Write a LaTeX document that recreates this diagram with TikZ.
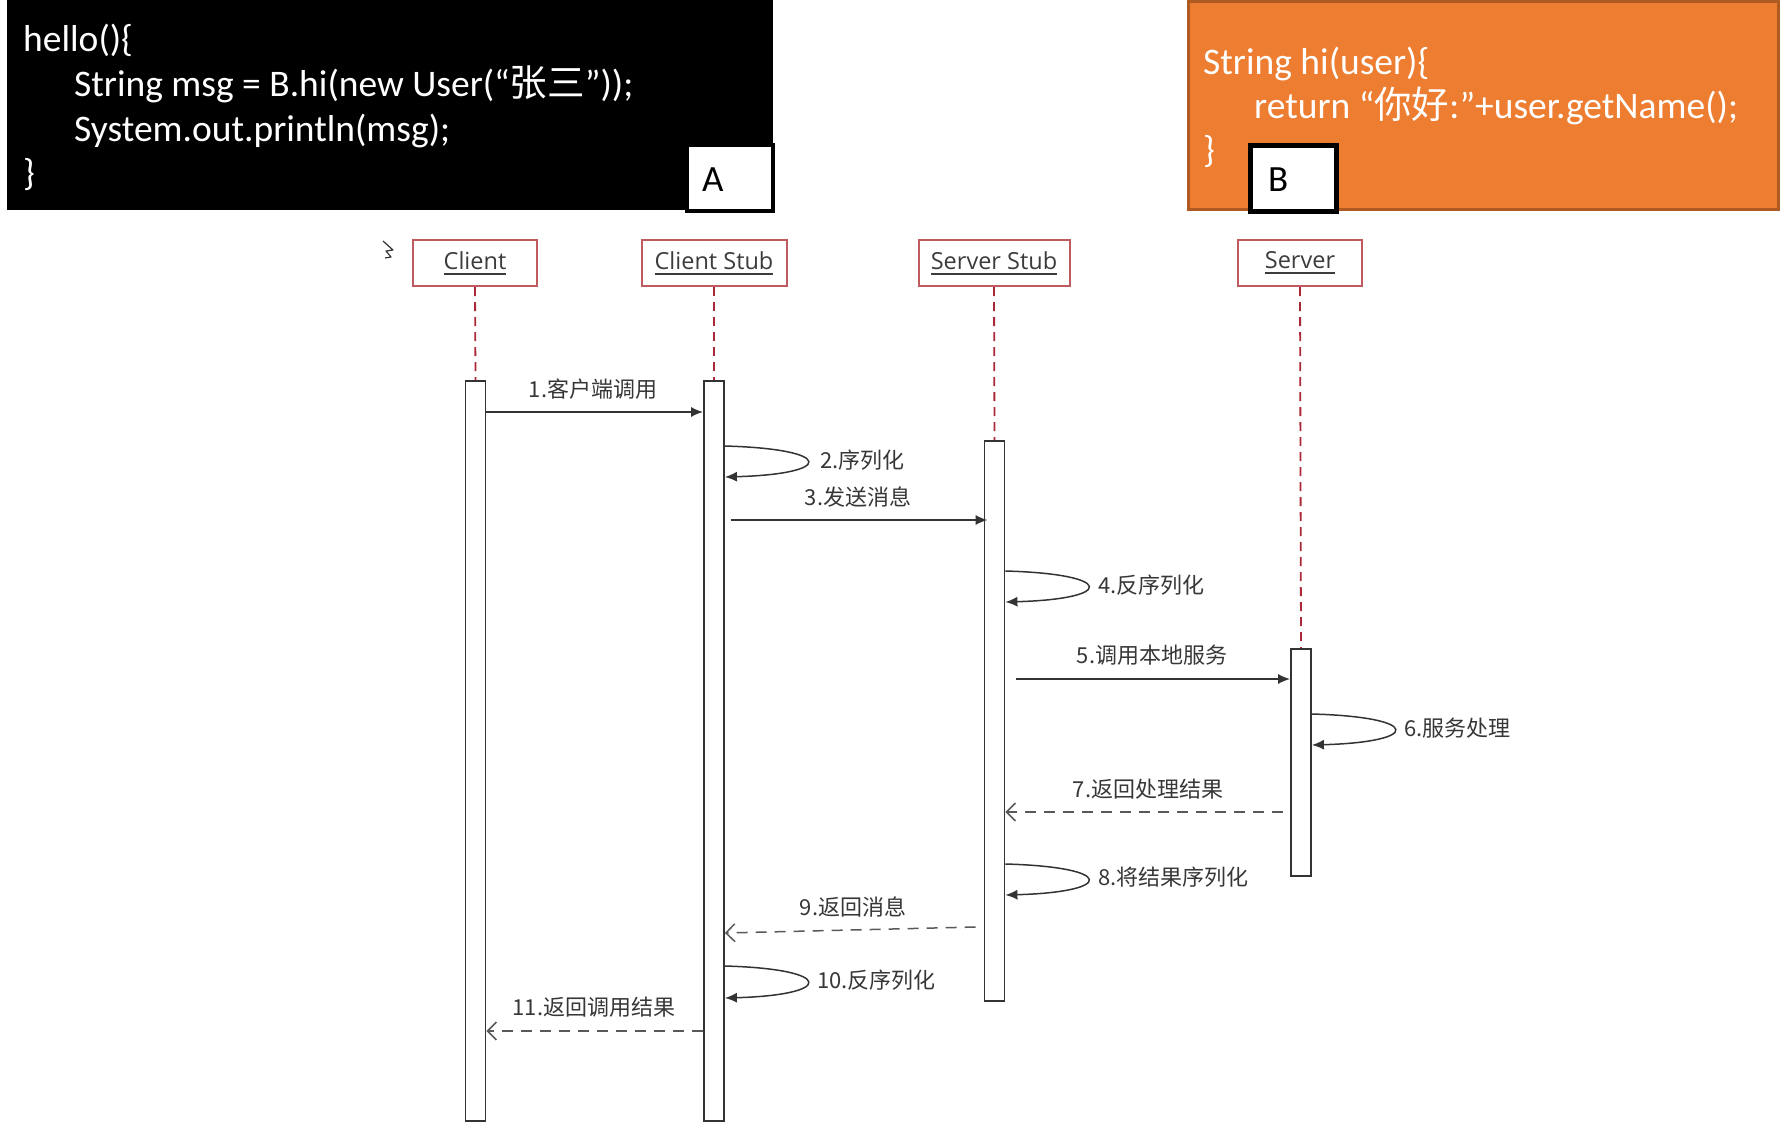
\documentclass[tikz,border=0pt]{standalone}
\usepackage{fontspec}
\setmainfont{Carlito}
\newfontfamily\cjk{Noto Sans CJK SC}
\newfontfamily\hdrfont{Open Sans}
\usetikzlibrary{arrows.meta}
\definecolor{orangefill}{RGB}{237,125,49}
\definecolor{orangeedge}{RGB}{174,90,33}
\definecolor{hdredge}{RGB}{192,90,95}
\definecolor{lifered}{RGB}{170,40,55}
\definecolor{msgtext}{RGB}{55,55,55}
\definecolor{hdrtext}{RGB}{60,60,60}
\newcommand\myul[1]{\setbox0\hbox{#1}\rlap{\vrule height -3.5pt depth 5.5pt width \wd0}\box0}
\begin{document}
\begin{tikzpicture}[x=1pt,y=-1pt,
  codetext/.style={font=\fontsize{37.5}{44}\selectfont, text=white, anchor=base west, inner sep=0pt},
  tagtext/.style={font=\fontsize{37}{44}\selectfont, text=black, anchor=base west, inner sep=0pt},
  tagbox/.style={draw=black, fill=white, inner sep=0pt, minimum width=86pt, minimum height=66pt},
  hdrbox/.style={draw=hdredge, line width=2pt, fill=white, minimum height=46pt, inner sep=0pt,
    font=\hdrfont\fontsize{23.5}{28}\selectfont, text=hdrtext},
  barbox/.style={draw=black!80, line width=1.8pt, fill=white, minimum width=20pt, inner sep=0pt, anchor=north},
  life/.style={draw=lifered, line width=1.8pt, dash pattern=on 9pt off 6pt},
  msg/.style={draw=black!80, line width=1.5pt, -{Latex[length=12pt,width=10pt]}},
  ret/.style={draw=black!65, line width=1.5pt, dash pattern=on 11pt off 8pt, -{Straight Barb[length=9pt,width=18pt]}},
  lbl/.style={font=\cjk\fontsize{22}{26}\selectfont, text=msgtext, inner sep=0pt}]
\useasboundingbox (0,0) rectangle (1780,1122);
\fill[white] (0,0) rectangle (1780,1122);

% ---- code box A ----
\fill[black] (7,0) rectangle (773,210);
\node[codetext] (a1) at (23,51) {hello()\{};
\node[codetext] (a2) at (74,96) {String msg = B.hi(new User(“{\cjk 张三}”));};
\node[codetext] (a3) at (74,141) {System.out.println(msg);};
\node[codetext] (a4) at (23,185) {\}};
\node[tagbox, line width=4pt] (tagA) at (730,178) {};
\node[tagtext] (ta) at (702,191) {A};

% ---- code box B ----
\filldraw[fill=orangefill, draw=orangeedge, line width=3pt] (1188,1.5) rectangle (1778.5,209);
\node[codetext] (b1) at (1203,74) {String hi(user)\{};
\node[codetext] (b2) at (1254,118) {return “{\cjk 你好}:”+user.getName();};
\node[codetext] (b3) at (1203,162) {\}};
\node[tagbox, line width=5pt] (tagB) at (1293,178) {};
\node[tagtext] (tb) at (1268,191) {B};

% ---- cursor scribble ----
\draw[black!80, line width=1.2pt, line join=round] (383,241) -- (393,250) -- (386,251) -- (391,257) -- (385,258);

% ---- headers ----
\node[hdrbox, minimum width=124pt] (hC) at (475,263) {\myul{Client}};
\node[hdrbox, minimum width=145pt] (hCS) at (714,263) {\myul{Client Stub}};
\node[hdrbox, minimum width=151pt] (hSS) at (994,263) {\myul{Server Stub}};
\node[hdrbox, minimum width=124pt] (hS) at (1300,263) {\myul{Server}};

% ---- activation bars ----
\node[barbox, minimum height=740pt] (bC) at (475.5,380) {};
\node[barbox, minimum height=740pt] (bCS) at (714,380) {};
\node[barbox, minimum height=560pt] (bSS) at (994.5,440) {};
\node[barbox, minimum height=227pt] (bS) at (1301,648) {};

% ---- lifelines ----
\draw[life] (hC.south) -- (bC.north);
\draw[life] (hCS.south) -- (bCS.north);
\draw[life] (hSS.south) -- (bSS.north);
\draw[life] (hS.south) -- (bS.north);

% ---- y levels ----
\coordinate (y1) at (0,412);
\coordinate (y2a) at (0,446); \coordinate (y2b) at (0,477);
\coordinate (y3) at (0,520);
\coordinate (y4a) at (0,571); \coordinate (y4b) at (0,602);
\coordinate (y5) at (0,679);
\coordinate (y6a) at (0,714); \coordinate (y6b) at (0,745);
\coordinate (y7) at (0,812);
\coordinate (y8a) at (0,864); \coordinate (y8b) at (0,895);
\coordinate (y9a) at (0,927); \coordinate (y9b) at (0,933);
\coordinate (y10a) at (0,966); \coordinate (y10b) at (0,998);
\coordinate (y11) at (0,1031);

% 1
\draw[msg] (bC.east |- y1) -- (bCS.west |- y1);
\node[lbl] (l1) at (593,389) {1.客户端调用};
% 2
\draw[msg] (bCS.east |- y2a) .. controls +(110,3) and +(110,-3) .. (bCS.east |- y2b);
\node[lbl, anchor=west] (l2) at (820,460) {2.序列化};
% 3
\draw[msg] ([xshift=6pt]bCS.east |- y3) -- ([xshift=4pt]bSS.west |- y3);
\node[lbl] (l3) at (858,497) {3.发送消息};
% 4
\draw[msg] (bSS.east |- y4a) .. controls +(110,3) and +(110,-3) .. (bSS.east |- y4b);
\node[lbl, anchor=west] (l4) at (1098,585) {4.反序列化};
% 5
\draw[msg] ([xshift=11pt]bSS.east |- y5) -- (bS.west |- y5);
\node[lbl] (l5) at (1152,655) {5.调用本地服务};
% 6
\draw[msg] (bS.east |- y6a) .. controls +(110,3) and +(110,-3) .. (bS.east |- y6b);
\node[lbl, anchor=west] (l6) at (1404,728) {6.服务处理};
% 7
\draw[ret] ([xshift=-7pt]bS.west |- y7) -- (bSS.east |- y7);
\node[lbl] (l7) at (1148,789) {7.返回处理结果};
% 8
\draw[msg] (bSS.east |- y8a) .. controls +(110,3) and +(110,-3) .. (bSS.east |- y8b);
\node[lbl, anchor=west] (l8) at (1098,877) {8.将结果序列化};
% 9
\draw[ret] ([xshift=-8pt]bSS.west |- y9a) -- (bCS.east |- y9b);
\node[lbl] (l9) at (853,907) {9.返回消息};
% 10
\draw[msg] (bCS.east |- y10a) .. controls +(110,3) and +(110,-3) .. (bCS.east |- y10b);
\node[lbl, anchor=west] (l10) at (817,980) {10.反序列化};
% 11
\draw[ret] (bCS.west |- y11) -- (bC.east |- y11);
\node[lbl] (l11) at (594,1007) {11.返回调用结果};
\end{tikzpicture}
\end{document}
